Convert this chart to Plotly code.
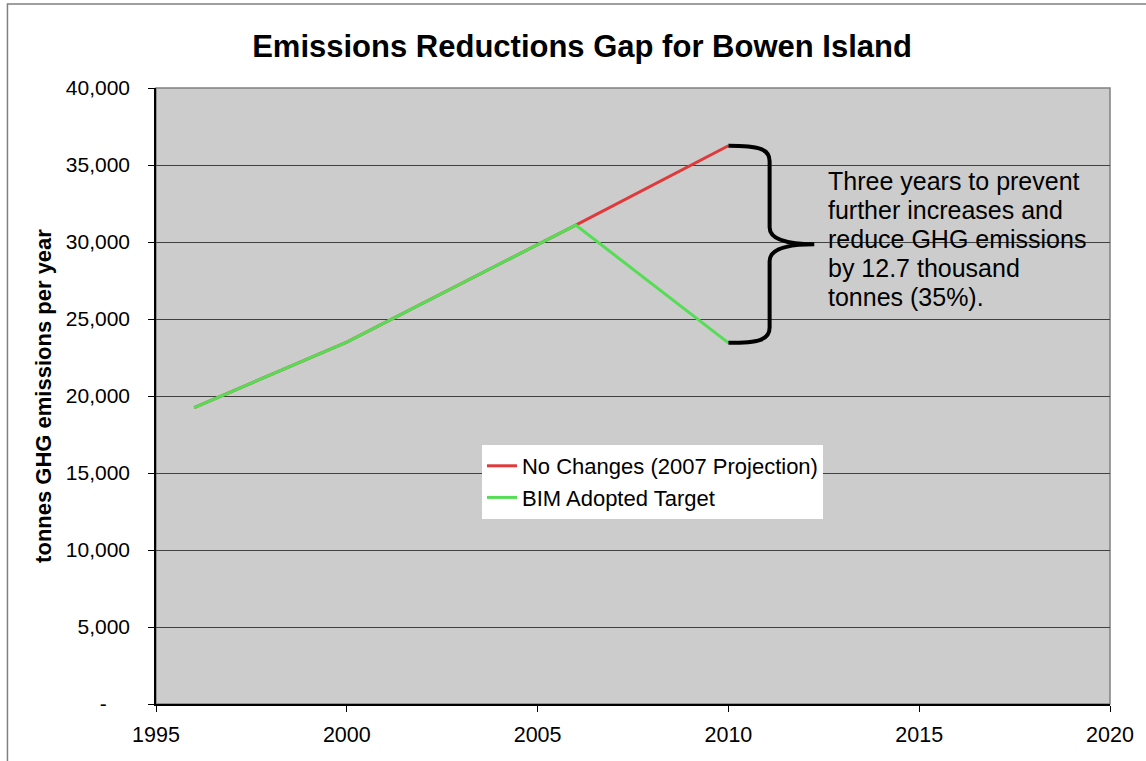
import plotly.graph_objects as go

years = [1996, 2000, 2006, 2010]
no_changes = [19250, 23500, 31100, 36250]
bim_target = [19250, 23500, 31100, 23450]

y_tickvals = [0, 5000, 10000, 15000, 20000, 25000, 30000, 35000, 40000]
y_ticktext = ["-\u00a0\u00a0\u00a0\u00a0", "5,000", "10,000", "15,000", "20,000",
              "25,000", "30,000", "35,000", "40,000"]
x_tickvals = [1995, 2000, 2005, 2010, 2015, 2020]

note_lines = ["Three years to prevent", "further increases and",
              "reduce GHG emissions", "by 12.7 thousand", "tonnes (35%)."]

FONT = "Arial, Liberation Sans, sans-serif"

fig = go.Figure()
fig.add_trace(go.Scatter(x=years, y=no_changes, mode="lines",
                         name="No Changes (2007 Projection)",
                         line=dict(color="#E0393B", width=3)))
fig.add_trace(go.Scatter(x=years, y=bim_target, mode="lines",
                         name="BIM Adopted Target",
                         line=dict(color="#55DD55", width=3)))

# curly brace spanning the 2010 gap
top = no_changes[-1]
bot = bim_target[-1]
mid = (top + bot) / 2
x0 = years[-1]
xv = x0 + 1.08
xt = x0 + 2.25
path = (f"M {x0},{top} C {x0+0.8},{top} {xv},{top-200} {xv},{top-1000} "
        f"L {xv},{mid+1100} C {xv},{mid+300} {xv+0.5},{mid} {xt},{mid} "
        f"C {xv+0.5},{mid} {xv},{mid-300} {xv},{mid-1100} "
        f"L {xv},{bot+1000} C {xv},{bot+200} {x0+0.8},{bot} {x0},{bot}")
fig.add_shape(type="path", path=path, xref="x", yref="y",
              line=dict(color="black", width=4))

# plot-area border
fig.add_shape(type="rect", xref="paper", yref="paper", x0=0, y0=0, x1=1, y1=1,
              line=dict(color="#808080", width=1.5), layer="below")
# outer chart border (cropped)
fig.add_shape(type="rect", xref="paper", yref="paper", x0=-0.1557, y0=-0.3,
              x1=1.2, y1=1.1364, line=dict(color="#808080", width=1.5))

for i, line in enumerate(note_lines):
    py = 181 + i * 29
    fig.add_annotation(
        xref="paper", yref="paper", x=(828 - 156) / 957, y=1 - (py - 88) / 616,
        xanchor="left", yanchor="middle", align="left", showarrow=False,
        text=line, font=dict(family=FONT, size=25, color="black"))

fig.update_layout(
    width=1146, height=761,
    margin=dict(l=156, r=33, t=88, b=57),
    paper_bgcolor="white", plot_bgcolor="#CCCCCC",
    font=dict(family=FONT, size=21, color="black"),
    title=dict(text="<b>Emissions Reductions Gap for Bowen Island</b>",
               x=582 / 1146, xanchor="center", y=1 - 46 / 761, yanchor="middle",
               font=dict(family=FONT, size=31, color="black")),
    showlegend=True,
    legend=dict(x=(483 - 156) / 957, y=1 - (445 - 88) / 616, xanchor="left",
                yanchor="top", bgcolor="white", borderwidth=0,
                font=dict(family=FONT, size=22), tracegroupgap=0,
                itemwidth=30),
    xaxis=dict(range=[1995, 2020], tickvals=x_tickvals, showgrid=False,
               zeroline=False, showline=True, linecolor="black", linewidth=1.5,
               ticks="outside", ticklen=6, tickcolor="black",
               ticklabelstandoff=4,
               tickfont=dict(family=FONT, size=21.5)),
    yaxis=dict(range=[0, 40000], tickvals=y_tickvals, ticktext=y_ticktext,
               showgrid=True, gridcolor="#404040", gridwidth=1,
               zeroline=False, showline=True, linecolor="black", linewidth=1.5,
               ticks="outside", ticklen=6, tickcolor="black",
               ticklabelstandoff=14,
               tickfont=dict(family=FONT, size=21),
               title=dict(text="<b>tonnes GHG emissions per year</b>",
                          font=dict(family=FONT, size=22), standoff=8)),
)

fig.write_html("out.html")
